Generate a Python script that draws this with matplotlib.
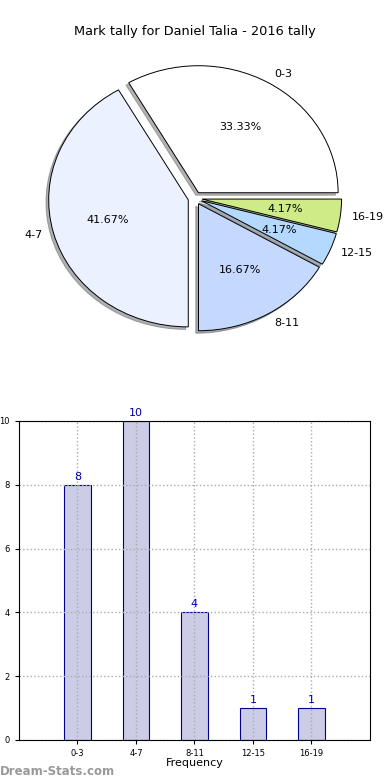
import matplotlib
matplotlib.use("Agg")
import matplotlib.pyplot as plt

categories = ["0-3", "4-7", "8-11", "12-15", "16-19"]
counts = [8, 10, 4, 1, 1]
pie_colors = ["#ffffff", "#ebf1fe", "#c5d8fe", "#b5d9fe", "#cfeb87"]
title = "Mark tally for Daniel Talia - 2016 tally"

fig = plt.figure(figsize=(3.9, 7.8), dpi=100)

# Pie chart
ax1 = fig.add_axes([0.0526, 0.5423, 0.8949, 0.4071])
wedges, texts, autotexts = ax1.pie(
    counts, labels=categories, colors=pie_colors, autopct="%1.2f%%",
    explode=[0.05] * len(counts),
    shadow={"ox": -0.014, "oy": -0.014, "shade": 0.6},
    startangle=0, labeldistance=1.08,
    wedgeprops=dict(edgecolor="black", linewidth=0.7),
    textprops=dict(fontsize=8))
ax1.set_aspect("auto")
ax1.set_xlim(-1.25, 1.25)
ax1.set_ylim(-1.25, 1.25)
ax1.set_title(title, fontsize=9.3, pad=3)

# Bar chart
ax2 = fig.add_axes([0.0487, 0.0513, 0.9, 0.409])
x = list(range(len(categories)))
bars = ax2.bar(x, counts, width=0.45, color="#cccce6", edgecolor="#00008b", linewidth=0.8)
for xi, c in zip(x, counts):
    ax2.text(xi, c + 0.1, str(c), ha="center", va="bottom", color="#0000aa", fontsize=8)
ax2.set_xlim(-1, 5)
ax2.set_ylim(0, 10)
ax2.set_xticks(x)
ax2.set_xticklabels(categories)
ax2.set_yticks([0, 2, 4, 6, 8, 10])
ax2.tick_params(labelsize=6, length=3)
ax2.grid(True, linestyle=":", color="#aaaaaa", linewidth=1)
ax2.set_xlabel("Frequency", fontsize=8, labelpad=0)
ax2.set_ylabel("Mark Intervals", fontsize=7, labelpad=4)

fig.text(0.0, 0.0115, "Dream-Stats.com", color="#999999", fontsize=8.5,
         fontweight="bold", ha="left", va="center")

fig.savefig("out.png", dpi=100)
